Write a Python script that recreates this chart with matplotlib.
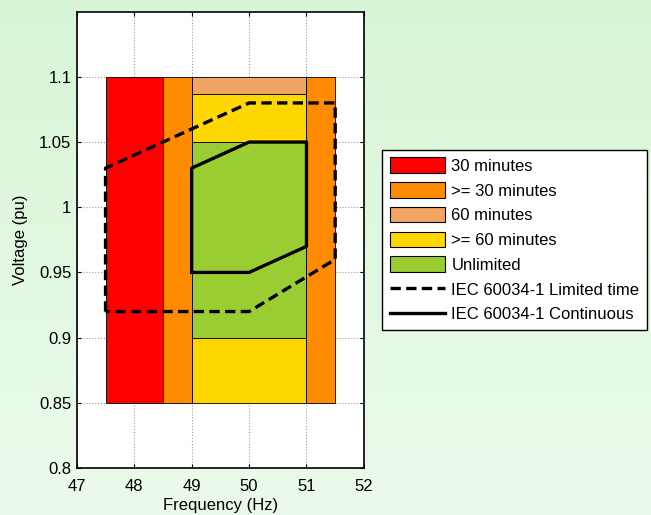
import numpy as np
import matplotlib.pyplot as plt
from matplotlib.patches import Patch
from matplotlib.lines import Line2D

plt.rcParams['font.family'] = ['Liberation Sans', 'DejaVu Sans']
plt.rcParams['font.size'] = 12

# --- operating zones (frequency in Hz, voltage in pu) ---
zone_labels = ["30 minutes", ">= 30 minutes", ">= 30 minutes", "60 minutes",
               ">= 60 minutes", ">= 60 minutes", "Unlimited"]
zone_f_lo = [47.5, 48.5, 51.0, 49.0, 49.0, 49.0, 49.0]
zone_f_hi = [48.5, 49.0, 51.5, 51.0, 51.0, 51.0, 51.0]
zone_v_lo = [0.85, 0.85, 0.85, 1.087, 1.05, 0.85, 0.90]
zone_v_hi = [1.10, 1.10, 1.10, 1.100, 1.087, 0.90, 1.05]

zone_colors = {
    "30 minutes": "#ff0000",
    ">= 30 minutes": "#ff8c00",
    "60 minutes": "#f2a463",
    ">= 60 minutes": "#ffd700",
    "Unlimited": "#9acd32",
}
legend_order = ["30 minutes", ">= 30 minutes", "60 minutes", ">= 60 minutes", "Unlimited"]

# --- IEC 60034-1 boundaries ---
limited_f = [47.5, 47.5, 50.0, 51.5, 51.5, 50.0, 47.5]
limited_v = [0.92, 1.03, 1.08, 1.08, 0.96, 0.92, 0.92]
cont_f = [49.0, 49.0, 50.0, 51.0, 51.0, 50.0, 49.0]
cont_v = [0.95, 1.03, 1.05, 1.05, 0.97, 0.95, 0.95]

x_ticks = [47, 48, 49, 50, 51, 52]
y_ticks = [0.8, 0.85, 0.9, 0.95, 1.0, 1.05, 1.1]
y_tick_labels = ["0.8", "0.85", "0.9", "0.95", "1", "1.05", "1.1"]

dash_style = (0, (3.1, 1.6))

fig = plt.figure(figsize=(6.51, 5.15), dpi=100)

# gradient background
bg = fig.add_axes([0, 0, 1, 1], zorder=-10)
grad = np.linspace(0, 1, 256).reshape(-1, 1)
top_c = np.array([0.843, 0.965, 0.843])
bot_c = np.array([0.925, 0.980, 0.925])
img = top_c[None, None, :] * (1 - grad[:, :, None]) + bot_c[None, None, :] * grad[:, :, None]
bg.imshow(img, aspect='auto', extent=[0, 1, 0, 1])
bg.axis('off')

ax = fig.add_axes([0.118, 0.0913, 0.441, 0.886])
ax.set_facecolor('white')

for lab, f0, f1, v0, v1 in zip(zone_labels, zone_f_lo, zone_f_hi, zone_v_lo, zone_v_hi):
    ax.bar(f0, v1 - v0, width=f1 - f0, bottom=v0, align='edge',
           color=zone_colors[lab], edgecolor='black', linewidth=0.6, zorder=2)

ax.plot(limited_f, limited_v, color='black', lw=2.4, linestyle=dash_style, zorder=3)
ax.plot(cont_f, cont_v, color='black', lw=2.4, zorder=3)

ax.set_xlim(47, 52)
ax.set_ylim(0.8, 1.15)
ax.set_xticks(x_ticks)
ax.set_yticks(y_ticks)
ax.set_yticklabels(y_tick_labels)
ax.tick_params(direction='in', top=True, right=True, length=3, labelsize=12)
ax.tick_params(axis='x', pad=8)
ax.tick_params(axis='y', pad=4)
ax.grid(True, color='#9a9a9a', linestyle=':', linewidth=0.8)
ax.set_axisbelow(True)
for s in ax.spines.values():
    s.set_linewidth(1.2)
ax.set_xlabel("Frequency (Hz)", fontsize=12, labelpad=3)
ax.set_ylabel("Voltage (pu)", fontsize=12, labelpad=8)

handles = [Patch(facecolor=zone_colors[k], edgecolor='black', linewidth=0.8) for k in legend_order]
handles.append(Line2D([], [], color='black', lw=2.4, linestyle=dash_style))
handles.append(Line2D([], [], color='black', lw=2.4))
labels = legend_order + ["IEC 60034-1 Limited time", "IEC 60034-1 Continuous"]
leg = fig.legend(handles, labels, loc='upper left', bbox_to_anchor=(0.587, 0.709),
                 bbox_transform=fig.transFigure, fontsize=12, frameon=True,
                 fancybox=False, edgecolor='black', framealpha=1,
                 handlelength=3.3, handleheight=1.05, handletextpad=0.4,
                 labelspacing=0.5, borderpad=0.45, borderaxespad=0)
leg.get_frame().set_linewidth(1.0)

fig.savefig("out.png", dpi=100)
